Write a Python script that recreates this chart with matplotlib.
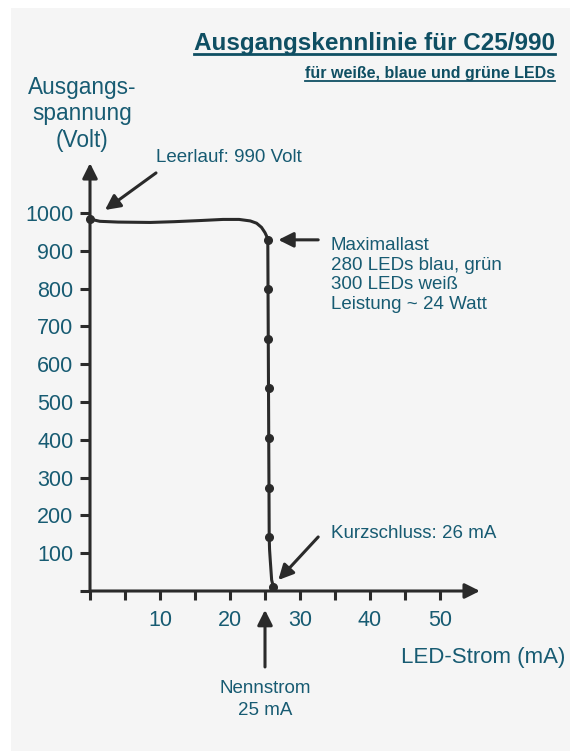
import numpy as np
import matplotlib
matplotlib.use('Agg')
from matplotlib import pyplot as plt
from matplotlib.patches import Rectangle
from matplotlib.lines import Line2D

plt.rcParams['font.family'] = ['Liberation Sans', 'DejaVu Sans']

# kennlinie (mA, Volt)
curve_ma = [0, 1.4, 4, 8.6, 12, 15.7, 19, 21.3, 22.9, 23.8, 24.5, 25.0, 25.3, 25.4,
            25.6, 25.65, 25.75, 25.95, 26.2]
curve_v = [984, 978, 976, 975, 977, 980, 983, 983, 979, 973, 962, 948, 936, 928,
           143, 110, 82, 29, 11]

dot_ma = [0, 25.4, 25.45, 25.45, 25.5, 25.5, 25.55, 25.6, 26.2]
dot_v = [984, 928, 799, 667, 537, 405, 272, 143, 11]

xticks = list(range(0, 55, 5))
xlabels = ['', '', '10', '', '20', '', '30', '', '40', '', '50']
yticks = list(range(0, 1100, 100))
ylabels = [''] + [str(v) for v in yticks[1:]]

txt = '#175b72'
dark = '#2a2a2a'

fig = plt.figure(figsize=(5.7, 7.51), dpi=100, facecolor='white')
fig.patches.append(Rectangle((11/570, 0), 1, 1 - 8/751, transform=fig.transFigure,
                             facecolor='#f5f5f5', edgecolor='none', zorder=-10))

ax = fig.add_axes([69/570, (751 - 602.34)/751, 420/570, 449.82/751])
ax.set_facecolor('none')
ax.set_xlim(-3, 57)
ax.set_ylim(-30, 1160)
for s in ax.spines.values():
    s.set_visible(False)
ax.spines['left'].set_position(('data', 0))
ax.spines['bottom'].set_position(('data', 0))

ax.set_xticks(xticks)
ax.set_xticklabels(xlabels)
ax.set_yticks(yticks)
ax.set_yticklabels(ylabels)
ax.tick_params(axis='x', direction='out', length=6.5, width=2.2, color=dark,
               labelsize=15.5, labelcolor=txt, pad=7)
ax.tick_params(axis='y', direction='out', length=7, width=2.2, color=dark,
               labelsize=15.5, labelcolor=txt, pad=5)

# axis lines with arrow heads
axis_arrow = dict(arrowstyle='-|>,head_length=0.9,head_width=0.45', lw=2.2,
                  color=dark, shrinkA=0, shrinkB=0)
ax.annotate('', xy=(0, 1132), xytext=(0, 0), arrowprops=axis_arrow, annotation_clip=False)
ax.annotate('', xy=(55.7, 0), xytext=(0, 0), arrowprops=axis_arrow, annotation_clip=False)

ax.plot(curve_ma, curve_v, color=dark, lw=2.2, solid_capstyle='round',
        solid_joinstyle='round', clip_on=False)
ax.plot(dot_ma, dot_v, 'o', color=dark, ms=5.5, clip_on=False)

note_arrow = dict(arrowstyle='-|>,head_length=0.9,head_width=0.45', lw=2.2,
                  color=dark, shrinkA=0, shrinkB=0)
ax.annotate('', xy=(2.14, 1008), xytext=(9.43, 1106), arrowprops=note_arrow, annotation_clip=False)
ax.annotate('', xy=(26.9, 929), xytext=(32.6, 929), arrowprops=note_arrow, annotation_clip=False)
ax.annotate('', xy=(26.9, 29), xytext=(32.6, 143), arrowprops=note_arrow, annotation_clip=False)
ax.annotate('', xy=(25, -50), xytext=(25, -201), arrowprops=note_arrow, annotation_clip=False)

ax.text(9.43, 1148, 'Leerlauf: 990 Volt', fontsize=13.5, color=txt, ha='left', va='center')
ax.text(34.4, 836, 'Maximallast\n280 LEDs blau, grün\n300 LEDs weiß\nLeistung ~ 24 Watt',
        fontsize=13.5, color=txt, ha='left', va='center', linespacing=1.2)
ax.text(34.4, 153, 'Kurzschluss: 26 mA', fontsize=13.5, color=txt, ha='left', va='center')
ax.text(25, -270, 'Nennstrom', fontsize=13.5, color=txt, ha='center', va='baseline')
ax.text(25, -328, '25 mA', fontsize=13.5, color=txt, ha='center', va='baseline')

ax.text(67.9, -175, 'LED-Strom (mA)', fontsize=16, color=txt, ha='right', va='center')
ax.text(-1.14, 1262, 'Ausgangs-\nspannung\n(Volt)', fontsize=16.3, color=txt, ha='center',
        va='center', multialignment='center', linespacing=1.22)

title_col = '#0f4f63'
t1 = fig.text(555/570, 1 - 50/751, 'Ausgangskennlinie für C25/990', fontsize=17.5,
              fontweight='bold', color=title_col, ha='right', va='baseline')
t2 = fig.text(555/570, 1 - 78/751, 'für weiße, blaue und grüne LEDs', fontsize=11.5,
              fontweight='bold', color=title_col, ha='right', va='baseline')

# underline both title lines
fig.canvas.draw()
r = fig.canvas.get_renderer()
for t, ypx, lw in [(t1, 53.5, 2.0), (t2, 81, 1.3)]:
    bb = t.get_window_extent(r)
    fig.add_artist(Line2D([bb.x0/570, bb.x1/570], [1 - ypx/751, 1 - ypx/751],
                          transform=fig.transFigure, color=title_col, lw=lw))

plt.savefig('out.png', dpi=100)
